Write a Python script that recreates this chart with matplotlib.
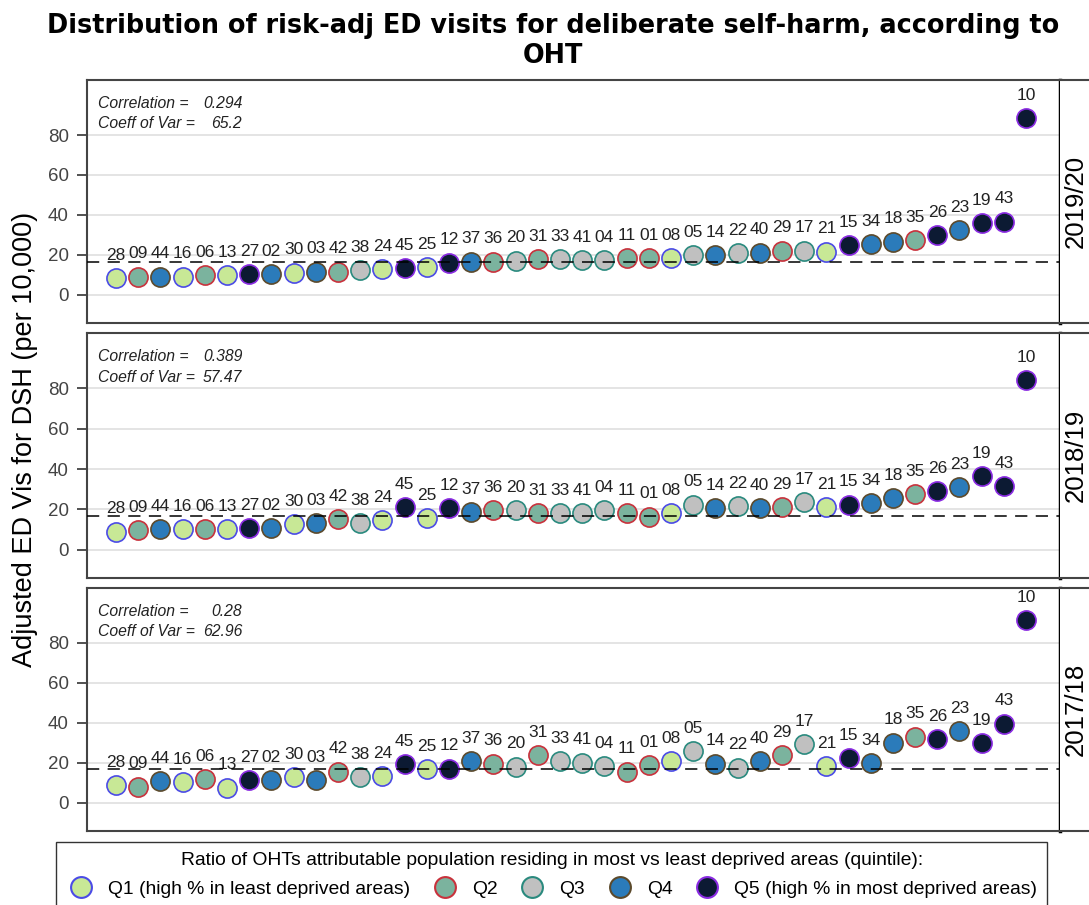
import matplotlib.pyplot as plt
import numpy as np

# OHT ids in plotted order (same order in every panel)
oht = ['28', '09', '44', '16', '06', '13', '27', '02', '30', '03',
       '42', '38', '24', '45', '25', '12', '37', '36', '20', '31',
       '33', '41', '04', '11', '01', '08', '05', '14', '22', '40',
       '29', '17', '21', '15', '34', '18', '35', '26', '23', '19',
       '43', '10']
quintile = [1, 2, 4, 1, 2, 1, 5, 4, 1, 4,
            2, 3, 1, 5, 1, 5, 4, 2, 3, 2,
            3, 3, 3, 2, 2, 1, 3, 4, 3, 4,
            2, 3, 1, 5, 4, 4, 2, 5, 4, 5,
            5, 5]

rate_1920 = [8.3, 9.2, 9.2, 9.2, 10.0, 10.0, 10.5, 10.5, 11.2, 11.7,
             11.7, 12.5, 13.0, 13.3, 13.8, 16.2, 16.7, 16.7, 17.2, 17.8,
             17.8, 17.5, 17.5, 18.3, 18.3, 18.3, 20.0, 20.0, 20.8, 21.2,
             22.2, 22.2, 21.7, 25.0, 25.5, 26.7, 27.5, 30.0, 32.5, 35.8,
             36.7, 88.3]
rate_1819 = [9.0, 9.8, 10.2, 10.2, 10.2, 10.2, 10.7, 10.7, 12.7, 13.2,
             15.3, 13.2, 14.8, 21.0, 15.7, 20.7, 18.7, 19.5, 19.5, 18.2,
             18.2, 18.2, 19.5, 18.2, 16.5, 18.2, 22.3, 20.7, 21.5, 20.7,
             21.0, 23.7, 21.0, 22.3, 23.2, 25.7, 27.7, 29.0, 31.0, 36.5,
             31.5, 84.0]
rate_1718 = [9.0, 8.2, 11.0, 10.5, 11.8, 7.7, 11.5, 11.5, 13.0, 11.5,
             15.7, 13.0, 13.5, 19.3, 16.8, 17.2, 21.0, 19.7, 18.2, 24.0,
             21.0, 20.2, 18.5, 15.7, 19.0, 21.0, 26.0, 19.7, 17.7, 21.0,
             24.0, 29.3, 18.5, 22.3, 19.8, 30.2, 33.2, 31.8, 36.0, 29.8,
             39.7, 91.5]

years = ['2019/20', '2018/19', '2017/18']
rates = [rate_1920, rate_1819, rate_1718]
correlation = ['0.294', '0.389', '0.28']
coeff_var = ['65.2', '57.47', '62.96']
ref_rate = [16.7, 17.0, 17.2]

q_labels = ['Q1 (high % in least deprived areas)', 'Q2', 'Q3', 'Q4',
            'Q5 (high % in most deprived areas)']
q_fill = ['#c8e896', '#7bb39e', '#c0c0c0', '#2b7bba', '#0c1a33']
q_edge = ['#4b4be6', '#c8323c', '#2a8a7e', '#5c4a2c', '#8a2be2']

plt.rcParams['font.family'] = ['Liberation Sans', 'DejaVu Sans']

fig = plt.figure(figsize=(10.89, 9.05), dpi=100)

fig.text(0.508, 0.9547, 'Distribution of risk-adj ED visits for deliberate self-harm, according to\nOHT',
         ha='center', va='center', fontsize=18.4, fontweight='bold', family='DejaVu Sans',
         linespacing=1.17)
fig.text(0.023, 0.514, 'Adjusted ED Vis for DSH (per 10,000)', rotation=90,
         ha='center', va='center', fontsize=19.5)

x = np.arange(len(oht))
q = np.array(quintile)
panel_pos = [(0.6431, 0.2685), (0.3613, 0.2707), (0.0818, 0.2685)]
left, width = 0.0799, 0.8935

for i, (bottom, height) in enumerate(panel_pos):
    ax = fig.add_axes([left, bottom, width, height])
    y = np.array(rates[i])
    ax.set_xlim(-1.31, 42.53)
    ax.set_ylim(-14, 107.5)
    ax.set_yticks([0, 20, 40, 60, 80])
    ax.set_xticks([])
    ax.tick_params(axis='y', direction='out', length=7, width=1.2, labelsize=13.5,
                   labelcolor='#444444', color='#333333', pad=6)
    ax.grid(axis='y', color='#e2e2e2', linewidth=1.3, zorder=0)
    ax.set_axisbelow(True)
    for sp in ax.spines.values():
        sp.set_color('#444444')
        sp.set_linewidth(1.5)
    ax.spines['right'].set_color('black')
    ax.spines['right'].set_linewidth(2.5)

    for k in range(5):
        m = q == k + 1
        ax.scatter(x[m], y[m], s=190, c=q_fill[k], edgecolors=q_edge[k],
                   linewidths=1.2, zorder=3)
    for xi, yi, lab in zip(x, y, oht):
        ax.annotate(lab, (xi, yi), xytext=(0, 16.5), textcoords='offset points',
                    ha='center', va='center', fontsize=12.5, color='#222222', zorder=4)
    ax.axhline(ref_rate[i], color='black', linestyle=(0, (8, 5.5)), linewidth=1.1, zorder=5)

    for yy, name, val in [(0.905, 'Correlation =', correlation[i]),
                          (0.82, 'Coeff of Var =', coeff_var[i])]:
        ax.text(0.011, yy, name, transform=ax.transAxes, fontsize=11.3, style='italic',
                color='#222222', va='center')
        ax.text(0.1595, yy, val, transform=ax.transAxes, fontsize=11.3, style='italic',
                color='#222222', va='center', ha='right')

    # strip with the year on the right
    sx = fig.add_axes([left + width, bottom, 0.06, height])
    sx.set_xticks([])
    sx.set_yticks([])
    for sp in sx.spines.values():
        sp.set_color('#444444')
        sp.set_linewidth(1.5)
    sx.spines['left'].set_visible(False)
    fig.text(0.9875, bottom + height / 2, years[i], rotation=90, ha='center',
             va='center', fontsize=18.5)

handles = [plt.Line2D([], [], linestyle='none', marker='o', markersize=15,
                      markerfacecolor=q_fill[k], markeredgecolor=q_edge[k],
                      markeredgewidth=1.5) for k in range(5)]
leg = fig.legend(handles, q_labels, loc='upper center', bbox_to_anchor=(0.5065, 0.0696),
                 borderaxespad=0, ncol=5, frameon=True, fancybox=False, edgecolor='black',
                 title='Ratio of OHTs attributable population residing in most vs least deprived areas (quintile):',
                 prop={'size': 13.9}, title_fontproperties={'size': 13.9},
                 handlelength=1.6, handletextpad=0.6, columnspacing=1.0,
                 borderpad=0.5, labelspacing=0.6)
leg.get_frame().set_linewidth(1.0)

fig.savefig('out.png', dpi=100)
